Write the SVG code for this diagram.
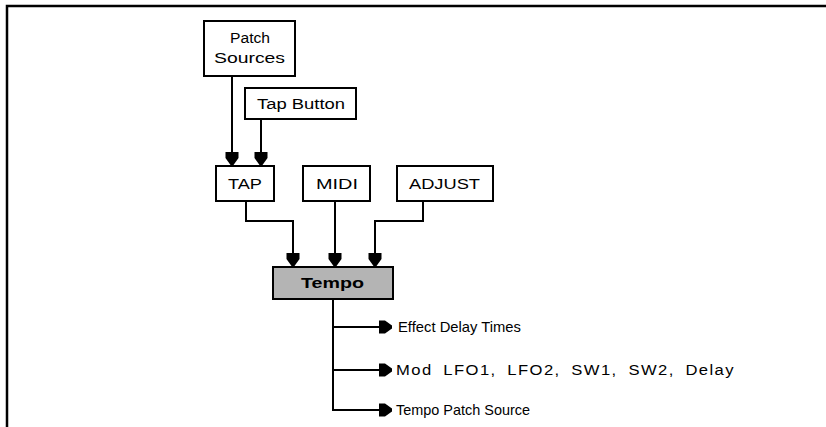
<svg xmlns="http://www.w3.org/2000/svg" width="826" height="427" viewBox="0 0 826 427">
  <style>
    .box { fill: #ffffff; stroke: #000000; stroke-width: 2; }
    .hub { fill: #b4b4b4; stroke: #000000; stroke-width: 2; }
    .lbl { font-family: "Liberation Sans", Arial, sans-serif; font-size: 14px; fill: #000000; }
    .out { font-size: 15px; }
    .wide { letter-spacing: 1.2px; word-spacing: 4px; }
    .hubl { font-family: "Liberation Sans", Arial, sans-serif; font-size: 15px; font-weight: bold; fill: #000000; }
    .wire { fill: none; stroke: #000000; stroke-width: 2; }
  </style>
  <defs>
    <marker id="head" markerUnits="userSpaceOnUse" markerWidth="16" markerHeight="16" viewBox="-14 -8 15 16" refX="0" refY="0" orient="auto">
      <path d="M-13,-6.5 L-7,-6.5 L0,-1.5 L0,1.5 L-7,6.5 L-13,6.5 Z" fill="#000000"/>
    </marker>
  </defs>

  <!-- page frame -->
  <path d="M7,427 L7,6 L826,6" fill="none" stroke="#000000" stroke-width="2.5"/>

  <g id="patch-sources">
    <rect class="box" x="204" y="21" width="91" height="55"/>
    <text class="lbl" x="230" y="43" textLength="40" lengthAdjust="spacingAndGlyphs">Patch</text>
    <text class="lbl" x="214" y="63" textLength="71" lengthAdjust="spacingAndGlyphs">Sources</text>
  </g>
  <g id="tap-button">
    <rect class="box" x="245" y="88" width="111" height="31"/>
    <text class="lbl" x="257" y="109" textLength="88" lengthAdjust="spacingAndGlyphs">Tap Button</text>
  </g>
  <g id="tap">
    <rect class="box" x="216" y="166" width="58" height="35"/>
    <text class="lbl" x="228" y="189" textLength="34" lengthAdjust="spacingAndGlyphs">TAP</text>
  </g>
  <g id="midi">
    <rect class="box" x="303" y="166" width="67" height="35"/>
    <text class="lbl" x="316" y="189" textLength="42" lengthAdjust="spacingAndGlyphs">MIDI</text>
  </g>
  <g id="adjust">
    <rect class="box" x="397" y="166" width="96" height="35"/>
    <text class="lbl" x="409" y="189" textLength="71" lengthAdjust="spacingAndGlyphs">ADJUST</text>
  </g>
  <g id="tempo">
    <rect class="hub" x="273" y="267" width="120" height="32"/>
    <text class="hubl" x="301" y="288" textLength="63" lengthAdjust="spacingAndGlyphs">Tempo</text>
  </g>
  <g id="out-effect">
    <text class="lbl out" x="398" y="332" textLength="123" lengthAdjust="spacingAndGlyphs">Effect Delay Times</text>
  </g>
  <g id="out-mod">
    <text class="lbl wide" x="396" y="375" textLength="339" lengthAdjust="spacingAndGlyphs">Mod LFO1, LFO2, SW1, SW2, Delay</text>
  </g>
  <g id="out-patch">
    <text class="lbl out" x="396" y="415" textLength="134" lengthAdjust="spacingAndGlyphs">Tempo Patch Source</text>
  </g>

  <g id="connectors">
    <path class="wire" d="M232,76 L232,165" marker-end="url(#head)"/>
    <path class="wire" d="M261,119 L261,165" marker-end="url(#head)"/>
    <path class="wire" d="M246,201 L246,221 L293,221 L293,266" marker-end="url(#head)"/>
    <path class="wire" d="M335,201 L335,266" marker-end="url(#head)"/>
    <path class="wire" d="M423,201 L423,221 L375,221 L375,266" marker-end="url(#head)"/>
    <path class="wire" d="M333,299 L333,410 L392,410" marker-end="url(#head)"/>
    <path class="wire" d="M333,327 L392,327" marker-end="url(#head)"/>
    <path class="wire" d="M333,370 L392,370" marker-end="url(#head)"/>
  </g>
</svg>
